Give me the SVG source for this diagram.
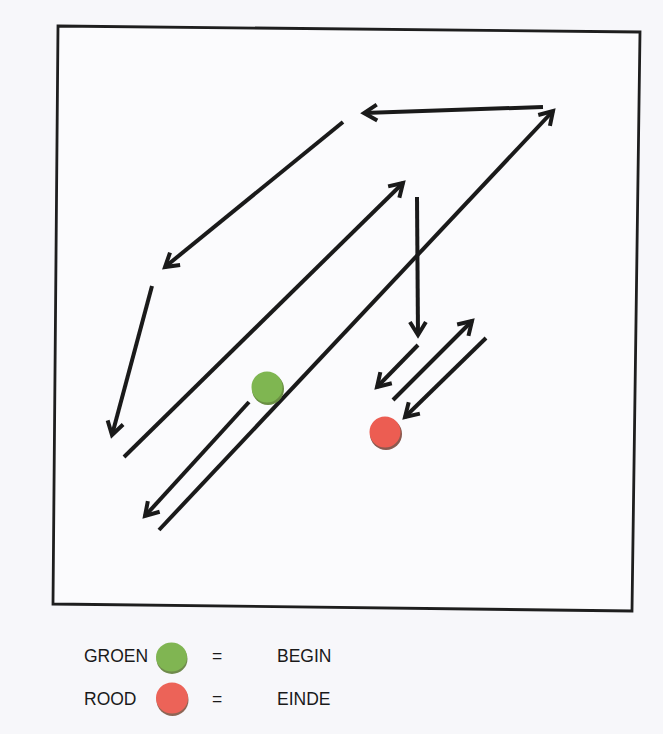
<svg xmlns="http://www.w3.org/2000/svg" width="663" height="734" viewBox="0 0 663 734">
<style>
.a{stroke:#1a1a1a;stroke-width:4;fill:none;stroke-linecap:butt;marker-end:url(#h)}
.t{font-family:"Liberation Sans",Arial,sans-serif;font-size:17.5px;fill:#1a1a1a}
</style>
<defs>
<marker id="h" markerUnits="userSpaceOnUse" markerWidth="30" markerHeight="30" refX="0" refY="0" viewBox="-15 -15 30 30" orient="auto" overflow="visible">
<path d="M-13,-8 L0,0 L-13,8" fill="none" stroke="#1a1a1a" stroke-width="4" stroke-linejoin="miter"/>
</marker>
</defs>
<rect width="663" height="734" fill="#f7f7fa"/>
<g id="frame"><polygon points="58,26 640,32 632,611 53,604" fill="#fbfbfd" stroke="#1e1e1e" stroke-width="2.8"/></g>
<g id="connectors">
<line class="a" x1="543" y1="107" x2="364" y2="113"/>
<line class="a" x1="159" y1="530" x2="553" y2="111"/>
<line class="a" x1="343" y1="122" x2="165" y2="267"/>
<line class="a" x1="152" y1="286" x2="112" y2="435"/>
<line class="a" x1="124" y1="457" x2="403" y2="183"/>
<line class="a" x1="417" y1="197" x2="418" y2="335"/>
<line class="a" x1="418" y1="345" x2="377" y2="387"/>
<line class="a" x1="393" y1="400" x2="472" y2="321"/>
<line class="a" x1="486" y1="338" x2="405" y2="417"/>
<line class="a" x1="249" y1="402" x2="145" y2="516"/>
</g>
<g id="start"><circle cx="268" cy="389" r="16" fill="#6a8f43"/><circle cx="267" cy="387" r="15.5" fill="#7fb651"/></g>
<g id="end"><circle cx="386" cy="434" r="16" fill="#8a5a50"/><circle cx="385" cy="432" r="15.5" fill="#ec5d52"/></g>
<g id="legend-groen">
<text class="t" x="84" y="662">GROEN</text>
<ellipse cx="172" cy="659" rx="15.5" ry="15" fill="#6f8a4c"/>
<ellipse cx="171.5" cy="657" rx="15.5" ry="14.5" fill="#80b552"/>
<text class="t" x="212" y="662">=</text>
<text class="t" x="277" y="662">BEGIN</text>
</g>
<g id="legend-rood">
<text class="t" x="84" y="705">ROOD</text>
<ellipse cx="172.5" cy="700" rx="16" ry="16" fill="#8d6655"/>
<ellipse cx="172" cy="698" rx="16" ry="15.5" fill="#ec6358"/>
<text class="t" x="212" y="705">=</text>
<text class="t" x="277" y="705">EINDE</text>
</g>
</svg>
